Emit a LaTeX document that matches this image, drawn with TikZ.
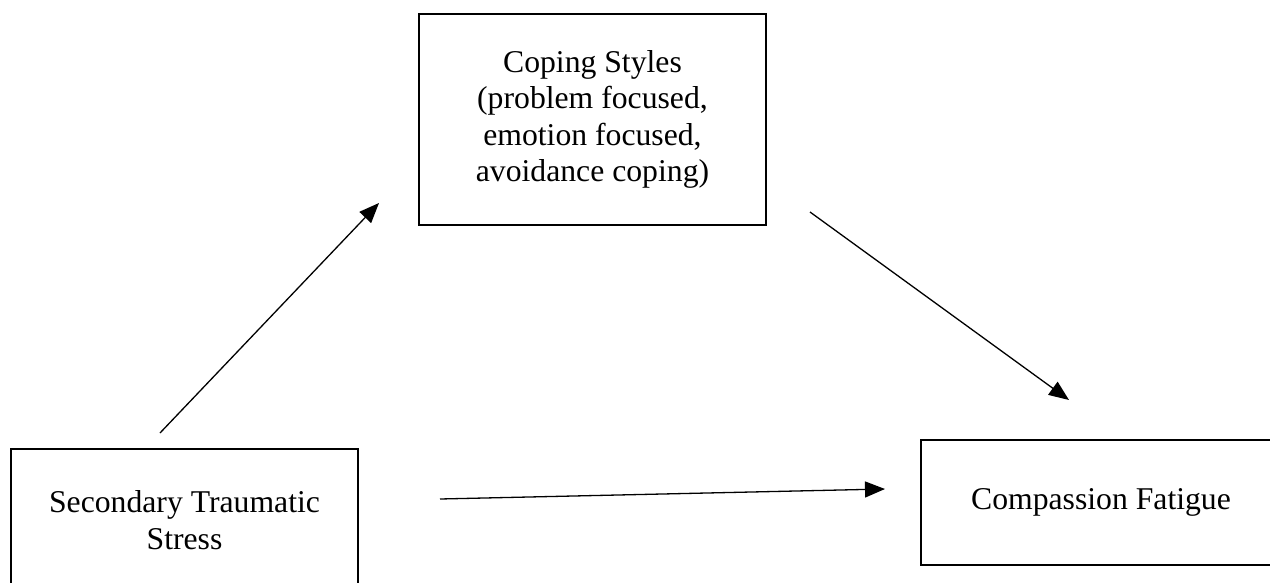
\documentclass[tikz,border=0pt]{standalone}
\usepackage{fontspec}
\setmainfont{Liberation Serif}
\usepackage{xcolor}
\usetikzlibrary{arrows.meta}
\definecolor{Ink}{HTML}{000000}

\begin{document}
\begin{tikzpicture}[
  x=1pt,y=-1pt,
  box/.style={draw=Ink,line width=2.4pt,rectangle,align=center,inner sep=0pt,
    font=\fontsize{31.7}{36.5}\selectfont,text=Ink},
  arr/.style={-{Triangle[length=20pt,width=16pt]},line width=1.3pt,color=Ink}]
\clip (0,0) rectangle (1270,583);
\node[box,minimum width=347pt,minimum height=211pt] (cope) at (592.5,119.5)
  {Coping Styles\\(problem focused,\\emotion focused,\\avoidance coping)};
\node[box,minimum width=347pt,minimum height=142pt] (sts) at (184.5,520)
  {Secondary Traumatic\\Stress};
\node[box,minimum width=360pt,minimum height=125pt] (cf) at (1101,502.5)
  {Compassion Fatigue};
% free ends of the connectors
\coordinate (stsUp) at (160,433);
\coordinate (copeIn) at (379,203);
\coordinate (copeOut) at (810,212);
\coordinate (cfTop) at (1069,400);
\coordinate (stsRight) at (440,499);
\coordinate (cfLeft) at (885,489);
\foreach \a/\b in {stsUp/copeIn,copeOut/cfTop,stsRight/cfLeft}
  \draw[arr] (\a) -- (\b);
\end{tikzpicture}
\end{document}
